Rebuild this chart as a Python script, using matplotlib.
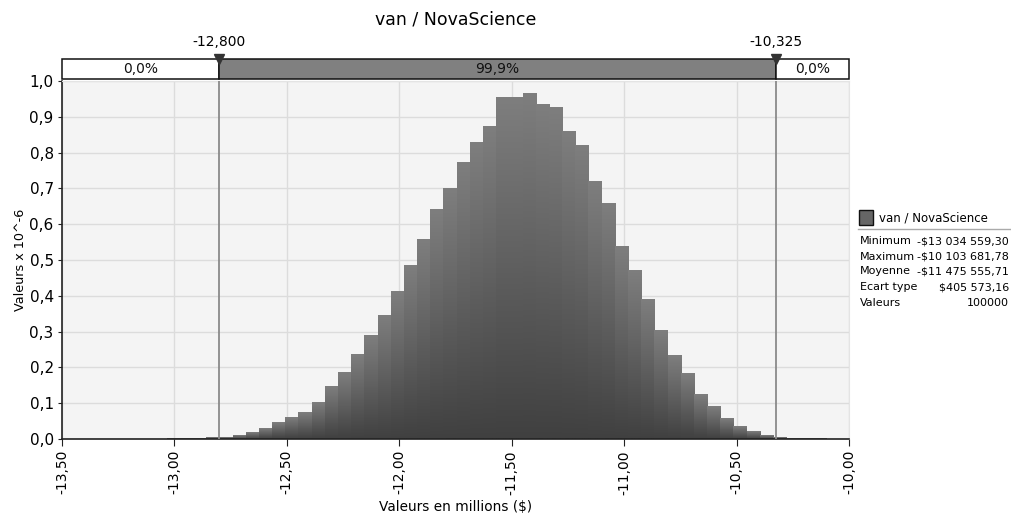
import numpy as np
import matplotlib
matplotlib.use('Agg')
from matplotlib import pyplot as plt
from matplotlib.patches import Rectangle
from matplotlib.colors import LinearSegmentedColormap
from matplotlib.lines import Line2D

plt.rcParams['font.family'] = 'DejaVu Sans'

# data
val_min = -13.03455930
val_max = -10.10368178
n_bins = 50
heights = [0.001, 0.002, 0.002, 0.003, 0.005, 0.011, 0.018, 0.028, 0.046, 0.060,
           0.075, 0.103, 0.146, 0.187, 0.235, 0.290, 0.344, 0.411, 0.486, 0.556,
           0.640, 0.701, 0.771, 0.827, 0.872, 0.955, 0.953, 0.964, 0.933, 0.925,
           0.860, 0.821, 0.718, 0.659, 0.539, 0.472, 0.391, 0.304, 0.232, 0.182,
           0.123, 0.092, 0.056, 0.034, 0.022, 0.011, 0.003, 0.002, 0.002, 0.001]
left_mark = -12.800
right_mark = -10.325
pct_labels = ['0,0%', '99,9%', '0,0%']
stat_names = ['Minimum', 'Maximum', 'Moyenne', 'Ecart type', 'Valeurs']
stat_values = ['-$13 034 559,30', '-$10 103 681,78', '-$11 475 555,71', '$405 573,16', '100000']
series_name = 'van / NovaScience'

W, H = 1012, 514
fig = plt.figure(figsize=(W / 100, H / 100), dpi=100)

def fx(px):
    return px / W

def fy(py):
    return 1 - py / H

ax = fig.add_axes([fx(62), fy(439), fx(849) - fx(62), fy(81) - fy(439)])
ax.set_facecolor('#f4f4f4')

edges = np.linspace(val_min, val_max, n_bins + 1)
cmap = LinearSegmentedColormap.from_list('g', ['#404040', '#7e7e7e'])
grad = np.linspace(0, 1, 128).reshape(-1, 1)
for i, h in enumerate(heights):
    ax.imshow(grad, cmap=cmap, origin='lower', aspect='auto',
              extent=(edges[i], edges[i + 1], 0, h), zorder=2, interpolation='bilinear')
ax.set_xlim(-13.5, -10.0)
ax.set_ylim(0, 1.0)

xt = np.arange(-13.5, -9.99, 0.5)
yt = np.arange(0, 1.01, 0.1)
ax.set_xticks(xt)
ax.set_xticklabels([f'{v:.2f}'.replace('.', ',') for v in xt], rotation=90, fontsize=10)
ax.set_yticks(yt)
ax.set_yticklabels([f'{v:.1f}'.replace('.', ',') for v in yt], fontsize=11)
ax.grid(True, color='#dcdcdc', lw=1, zorder=1)
ax.set_axisbelow(True)
ax.tick_params(axis='x', length=5, color='#222222', pad=3)
ax.tick_params(axis='y', length=3, color='#222222', pad=3)
for s in ['top', 'right']:
    ax.spines[s].set_color('#e4e4e4')
for s in ['left', 'bottom']:
    ax.spines[s].set_color('#222222')
    ax.spines[s].set_linewidth(1.2)

ax.axvline(left_mark, color='#8a8a8a', lw=1.3, zorder=3)
ax.axvline(right_mark, color='#8a8a8a', lw=1.3, zorder=3)

ax.set_xlabel('Valeurs en millions ($)', fontsize=9.8, labelpad=4)
ax.set_ylabel('Valeurs x 10^-6', fontsize=9.2, labelpad=2)

# strip above the plot
axs = fig.add_axes([fx(62), fy(79), fx(849) - fx(62), fy(58.5) - fy(79)])
axs.set_xlim(-13.5, -10.0)
axs.set_ylim(0, 1)
axs.set_xticks([])
axs.set_yticks([])
for s in axs.spines.values():
    s.set_visible(False)
bounds = [-13.5, left_mark, right_mark, -10.0]
fills = ['white', '#808080', 'white']
for k in range(3):
    axs.add_patch(Rectangle((bounds[k], 0), bounds[k + 1] - bounds[k], 1,
                            facecolor=fills[k], edgecolor='#111111', lw=1.1, clip_on=False))
    axs.text((bounds[k] + bounds[k + 1]) / 2, 0.47, pct_labels[k], ha='center', va='center',
             fontsize=10, color='#111111')
for m in [left_mark, right_mark]:
    axs.plot([m], [1.0], marker='v', color='#333333', markersize=7, clip_on=False, zorder=5)
    axs.annotate(f'{m:.3f}'.replace('.', ','), (m, 1.0), xytext=(0, 7),
                 textcoords='offset points', ha='center', va='bottom', fontsize=10)

fig.text(fx(456), fy(20), series_name, ha='center', va='center', fontsize=12.5)

# legend / stats
fig.add_artist(Rectangle((fx(859), fy(225)), fx(14), fy(210) - fy(225),
                         transform=fig.transFigure, facecolor='#666666', edgecolor='#111111', lw=1))
fig.text(fx(879), fy(218), series_name, ha='left', va='center', fontsize=8.5)
fig.add_artist(Line2D([fx(858), fx(1011)], [fy(229), fy(229)], transform=fig.transFigure,
                      color='#aaaaaa', lw=1))
row_y = [241.5, 256.5, 271.5, 287, 302.5]
for name, val, yy in zip(stat_names, stat_values, row_y):
    fig.text(fx(860), fy(yy), name, ha='left', va='center', fontsize=8)
    fig.text(fx(1009), fy(yy), val, ha='right', va='center', fontsize=8)

fig.savefig('out.png', dpi=100)
